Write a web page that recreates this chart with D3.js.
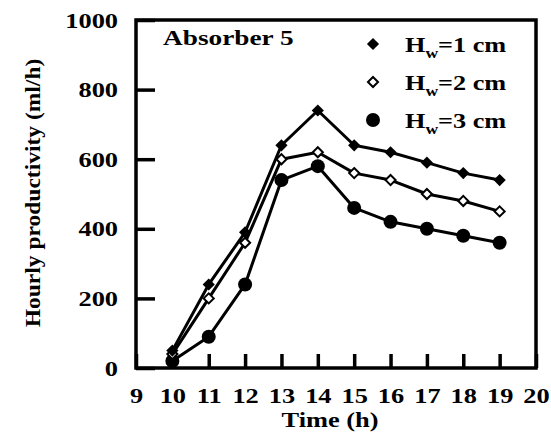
<!DOCTYPE html>
<html>
<head>
<meta charset="utf-8">
<script src="https://cdn.jsdelivr.net/npm/d3@7"></script>
<style>
  html, body { margin: 0; padding: 0; background: #fff; }
  svg { display: block; }
  text { font-family: "Liberation Serif", "Times New Roman", serif; font-weight: bold; fill: #000; }
</style>
</head>
<body>
<svg id="chart" width="551" height="437"></svg>
<script>
// Hourly productivity of absorber 5 for three water depths
const hours = [10, 11, 12, 13, 14, 15, 16, 17, 18, 19];
const hw1 = [50, 240, 390, 640, 740, 640, 620, 590, 560, 540];
const hw2 = [40, 200, 360, 600, 620, 560, 540, 500, 480, 450];
const hw3 = [20, 90, 240, 540, 580, 460, 420, 400, 380, 360];
const seriesNames = ["1", "2", "3"];
const xTicks = [9, 10, 11, 12, 13, 14, 15, 16, 17, 18, 19, 20];
const yTicks = [0, 200, 400, 600, 800, 1000];

const svg = d3.select("#chart");
const plotL = 136, plotR = 536, plotT = 20, plotB = 368;
const x = d3.scaleLinear().domain([9, 20]).range([plotL, plotR]);
const y = d3.scaleLinear().domain([0, 1000]).range([plotB, plotT]);
const STRETCH = 1.2;
const FS = 22;

// Axes with inward ticks
const gx = svg.append("g").attr("transform", `translate(0,${plotB})`)
  .call(d3.axisBottom(x).tickValues(xTicks).tickFormat(d3.format("d"))
    .tickSizeInner(-14).tickSizeOuter(0).tickPadding(19));
const gy = svg.append("g").attr("transform", `translate(${plotL},0)`)
  .call(d3.axisLeft(y).tickValues(yTicks).tickFormat(d3.format("d"))
    .tickSizeInner(-19).tickSizeOuter(0).tickPadding(18));

[gx, gy].forEach(g => {
  g.attr("font-family", null).attr("font-size", null);
  g.select(".domain").remove();
  g.selectAll(".tick line").attr("stroke", "#000").attr("stroke-width", 3.5);
  g.selectAll(".tick text").attr("font-size", FS).attr("fill", "#000");
});
gx.selectAll(".tick text").attr("transform", `scale(${STRETCH},1)`);
gy.selectAll(".tick text").attr("x", -18 / STRETCH).attr("transform", `scale(${STRETCH},1)`);

// Plot frame
svg.append("rect")
  .attr("x", plotL).attr("y", plotT)
  .attr("width", plotR - plotL).attr("height", plotB - plotT)
  .attr("fill", "none").attr("stroke", "#000").attr("stroke-width", 3.5);

// Axis titles
svg.append("text")
  .attr("transform", `translate(330,427) scale(1.2,1)`)
  .attr("text-anchor", "middle").attr("font-size", FS)
  .text("Time (h)");
svg.append("text")
  .attr("transform", `translate(40,193) rotate(-90) scale(1.12,1)`)
  .attr("text-anchor", "middle").attr("font-size", 21)
  .text("Hourly productivity (ml/h)");

// Panel label
svg.append("text")
  .attr("transform", `translate(163,45) scale(1.3,1)`)
  .attr("font-size", 21)
  .text("Absorber 5");

// Marker shapes
const diamond = d3.symbol().type(d3.symbolDiamond2);
function drawMarker(g, kind, cx, cy) {
  if (kind === 0) {
    g.append("path").attr("d", diamond.size(95)()).attr("transform", `translate(${cx},${cy})`)
      .attr("fill", "#000");
  } else if (kind === 1) {
    g.append("path").attr("d", diamond.size(65)()).attr("transform", `translate(${cx},${cy})`)
      .attr("fill", "#fff").attr("stroke", "#000").attr("stroke-width", 2);
  } else {
    g.append("circle").attr("cx", cx).attr("cy", cy).attr("r", 7).attr("fill", "#000");
  }
}

// Series lines and markers
const allSeries = [hw1, hw2, hw3];
const line = d3.line().x((d, i) => x(hours[i])).y(d => y(d));
const plot = svg.append("g");
allSeries.forEach(vals => {
  plot.append("path").datum(vals).attr("d", line)
    .attr("fill", "none").attr("stroke", "#000").attr("stroke-width", 3)
    .attr("stroke-linejoin", "round");
});
allSeries.slice().reverse().forEach((vals, ri) => {
  const k = allSeries.length - 1 - ri;
  vals.forEach((v, i) => drawMarker(plot, k, x(hours[i]), y(v)));
});

// Legend
const legend = svg.append("g");
seriesNames.forEach((n, k) => {
  const ly = 45 + k * 38;
  drawMarker(legend, k, 373, ly - 1);
  const t = legend.append("text")
    .attr("transform", `translate(405,${ly + 7}) scale(1.25,1)`)
    .attr("font-size", 21);
  t.append("tspan").text("H");
  t.append("tspan").attr("font-size", 14).attr("dy", 6).text("w");
  t.append("tspan").attr("dy", -6).text(`=${n} cm`);
});
</script>
</body>
</html>
